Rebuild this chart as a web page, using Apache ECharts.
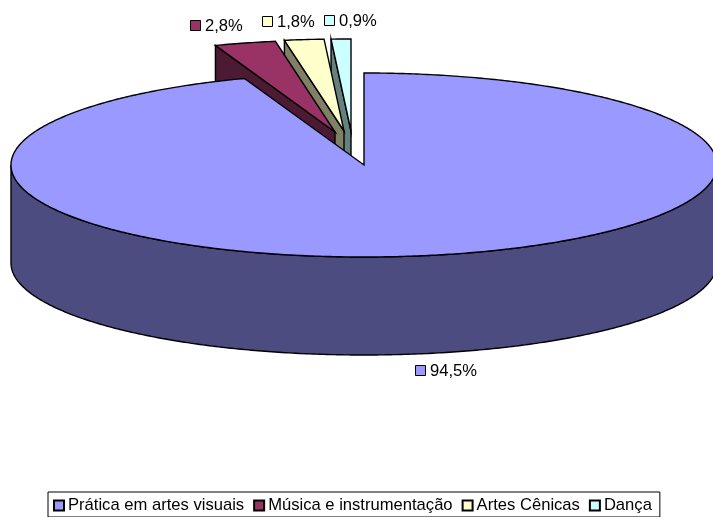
<!DOCTYPE html>
<html><head><meta charset="utf-8">
<style>html,body{margin:0;padding:0;background:#fff;overflow:hidden}#c{width:713px;height:517px}</style>
<script src="https://cdn.jsdelivr.net/npm/echarts@6/dist/echarts.min.js"></script></head>
<body><div id="c"></div>
<script>
const categories = ['Prática em artes visuais','Música e instrumentação','Artes Cênicas','Dança'];
const values = [94.5, 2.8, 1.8, 0.9];
const colors = ['#9999FF','#993366','#FFFFCC','#CCFFFF'];
const wallColors = ['#4C4C80','#4D1A33','#808066','#668080'];

// layout of the projected pie
const CX = 364, CY = 165, RX = 353, RY = 92, DEPTH = 98;
const FONT = '16.6px "Liberation Sans", Arial, sans-serif';
const explode = [[0,0],[-29,-33],[-20,-34],[-13,-34]];
const labelAt = [[415,371],[190,26],[262,22],[324,21]];
const drawOrder = [3,2,1,0];

const total = values.reduce((a,b)=>a+b,0);
function startFrac(i){let s=0;for(let k=0;k<i;k++)s+=values[k];return s/total;}
function pt(a,ox,oy,dy){return [CX+ox+RX*Math.sin(a),CY+oy-RY*Math.cos(a)+(dy||0)];}
function arc(a0,a1,ox,oy,dy){
  const n=Math.max(2,Math.ceil(Math.abs(a1-a0)/0.01)),p=[];
  for(let i=0;i<=n;i++)p.push(pt(a0+(a1-a0)*i/n,ox,oy,dy));
  return p;
}
const LINE={stroke:'#000',lineWidth:1.4,lineJoin:'miter'};
function poly(points,fill){return {type:'polygon',shape:{points},style:Object.assign({fill},LINE)};}

function renderSlice(i){return function(params,api){
  const v=api.value(0), a0=2*Math.PI*startFrac(i), a1=a0+2*Math.PI*v/total;
  const [ox,oy]=explode[i], apex=[CX+ox,CY+oy], kids=[];
  if(i===0){
    kids.push(poly(arc(Math.PI/2,3*Math.PI/2,ox,oy,0).concat(arc(3*Math.PI/2,Math.PI/2,ox,oy,DEPTH)),wallColors[i]));
  } else {
    const c=pt(a0,ox,oy);
    kids.push(poly([apex,c,[c[0],c[1]+DEPTH],[apex[0],apex[1]+DEPTH]],wallColors[i]));
  }
  kids.push(poly([apex].concat(arc(a0,a1,ox,oy)),colors[i]));
  const [lx,ly]=labelAt[i];
  kids.push({type:'rect',shape:{x:lx+.5,y:ly-5.5,width:10,height:10},style:{fill:colors[i],stroke:'#000',lineWidth:1}});
  kids.push({type:'text',style:{x:lx+15,y:ly+.5,text:String(v).replace('.',',')+'%',fill:'#000',font:FONT,textAlign:'left',textVerticalAlign:'middle'}});
  return {type:'group',children:kids};
};}

const series = drawOrder.map(i=>({
  type:'custom',name:categories[i],coordinateSystem:'none',silent:true,
  data:[[values[i]]],renderItem:renderSlice(i),z:10-i,
  itemStyle:{color:colors[i],borderColor:'#000',borderWidth:1}
}));

const chart = echarts.init(document.getElementById('c'),null,{renderer:'canvas'});
chart.setOption({
  animation:false,backgroundColor:'#fff',
  legend:{data:categories,left:48,top:492,orient:'horizontal',icon:'rect',
    itemWidth:10,itemHeight:10,itemGap:9,padding:[5,8,3,5],
    borderColor:'#000',borderWidth:1,backgroundColor:'#fff',selectedMode:false,
    textStyle:{color:'#000',fontFamily:'"Liberation Sans", Arial, sans-serif',fontSize:16.6,padding:[1,0,0,-1]}},
  series
});
</script></body></html>
